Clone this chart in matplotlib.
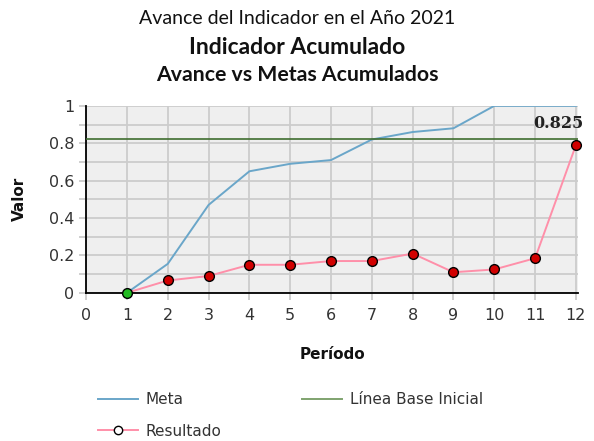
import matplotlib.pyplot as plt
from matplotlib.ticker import MultipleLocator
from matplotlib.lines import Line2D

periodos = [1, 2, 3, 4, 5, 6, 7, 8, 9, 10, 11, 12]
meta = [0.0, 0.155, 0.47, 0.65, 0.69, 0.71, 0.82, 0.86, 0.88, 1.0, 1.0, 1.0]
resultado = [0.0, 0.066, 0.09, 0.15, 0.15, 0.17, 0.17, 0.21, 0.11, 0.125, 0.185, 0.79]
linea_base = 0.82
etiqueta_final = "0.825"
yticks = [0, 0.2, 0.4, 0.6, 0.8, 1.0]
ytick_labels = ["0", "0.2", "0.4", "0.6", "0.8", "1"]

fig = plt.figure(figsize=(5.94, 4.41), dpi=100)
ax = fig.add_axes([0.145, 0.336, 0.828, 0.424])
ax.set_facecolor("#efefef")

ax.plot(periodos, meta, color="#6aa6c9", lw=1.4, zorder=3)
ax.axhline(linea_base, color="#3f6e2f", lw=1.2, zorder=3)
ax.plot(periodos, resultado, color="#ff8fa9", lw=1.4, zorder=4)
ax.plot(periodos[1:], resultado[1:], ls="none", marker="o", ms=7,
        mfc="#d10000", mec="black", mew=1, zorder=5, clip_on=False)
ax.plot(periodos[:1], resultado[:1], ls="none", marker="o", ms=7,
        mfc="#22bb22", mec="black", mew=1, zorder=5, clip_on=False)

ax.text(periodos[-1] - 0.42, 0.905, etiqueta_final, family="DejaVu Serif",
        weight="bold", fontsize=11.5, color="#222222", ha="center", va="center")

ax.set_xlim(0, 12.05)
ax.set_ylim(0, 1)
ax.xaxis.set_major_locator(MultipleLocator(1))
ax.set_yticks(yticks)
ax.set_yticklabels(ytick_labels)
ax.yaxis.set_minor_locator(MultipleLocator(0.1))
ax.grid(True, which="major", color="#cccccc", lw=1.3, zorder=0)
ax.yaxis.grid(True, which="minor", color="#cccccc", lw=1.3, zorder=0)
ax.set_axisbelow(True)

for s in ["top", "right"]:
    ax.spines[s].set_visible(False)
ax.spines["left"].set_linewidth(1.3)
ax.spines["bottom"].set_linewidth(1.3)
ax.tick_params(which="both", colors="#cccccc", length=5, width=1.3,
               labelcolor="#333333", labelsize=11.5)
ax.tick_params(axis="x", pad=6)

ax.set_ylabel("Valor", weight="bold", fontsize=11, color="#111111", labelpad=16)
ax.set_xlabel("Período", weight="bold", fontsize=11, color="#111111", labelpad=17)

fig.text(0.5, 0.958, "Avance del Indicador en el Año 2021", family="Lato",
         fontsize=14, ha="center", va="center", color="#111111")
fig.text(0.5, 0.893, "Indicador Acumulado", family="Lato", weight="bold",
         fontsize=16.5, ha="center", va="center", color="#111111")
fig.text(0.5, 0.830, "Avance vs Metas Acumulados", family="Lato", weight="bold",
         fontsize=15.3, ha="center", va="center", color="#111111")

handles = [
    Line2D([], [], color="#6aa6c9", lw=1.4),
    Line2D([], [], color="#ff8fa9", lw=1.4, marker="o", ms=6, mfc="white", mec="black"),
    Line2D([], [], color="#7fa36f", lw=1.4),
]
labels = ["Meta", "Resultado", "Línea Base Inicial"]
fig.legend(handles, labels, ncol=2, frameon=False, loc="upper left",
           bbox_to_anchor=(0.155, 0.125), fontsize=11, labelcolor="#333333",
           handlelength=2.6, handletextpad=0.5, columnspacing=5.3,
           borderaxespad=0, labelspacing=1.1)

fig.savefig("out.png", dpi=100)
